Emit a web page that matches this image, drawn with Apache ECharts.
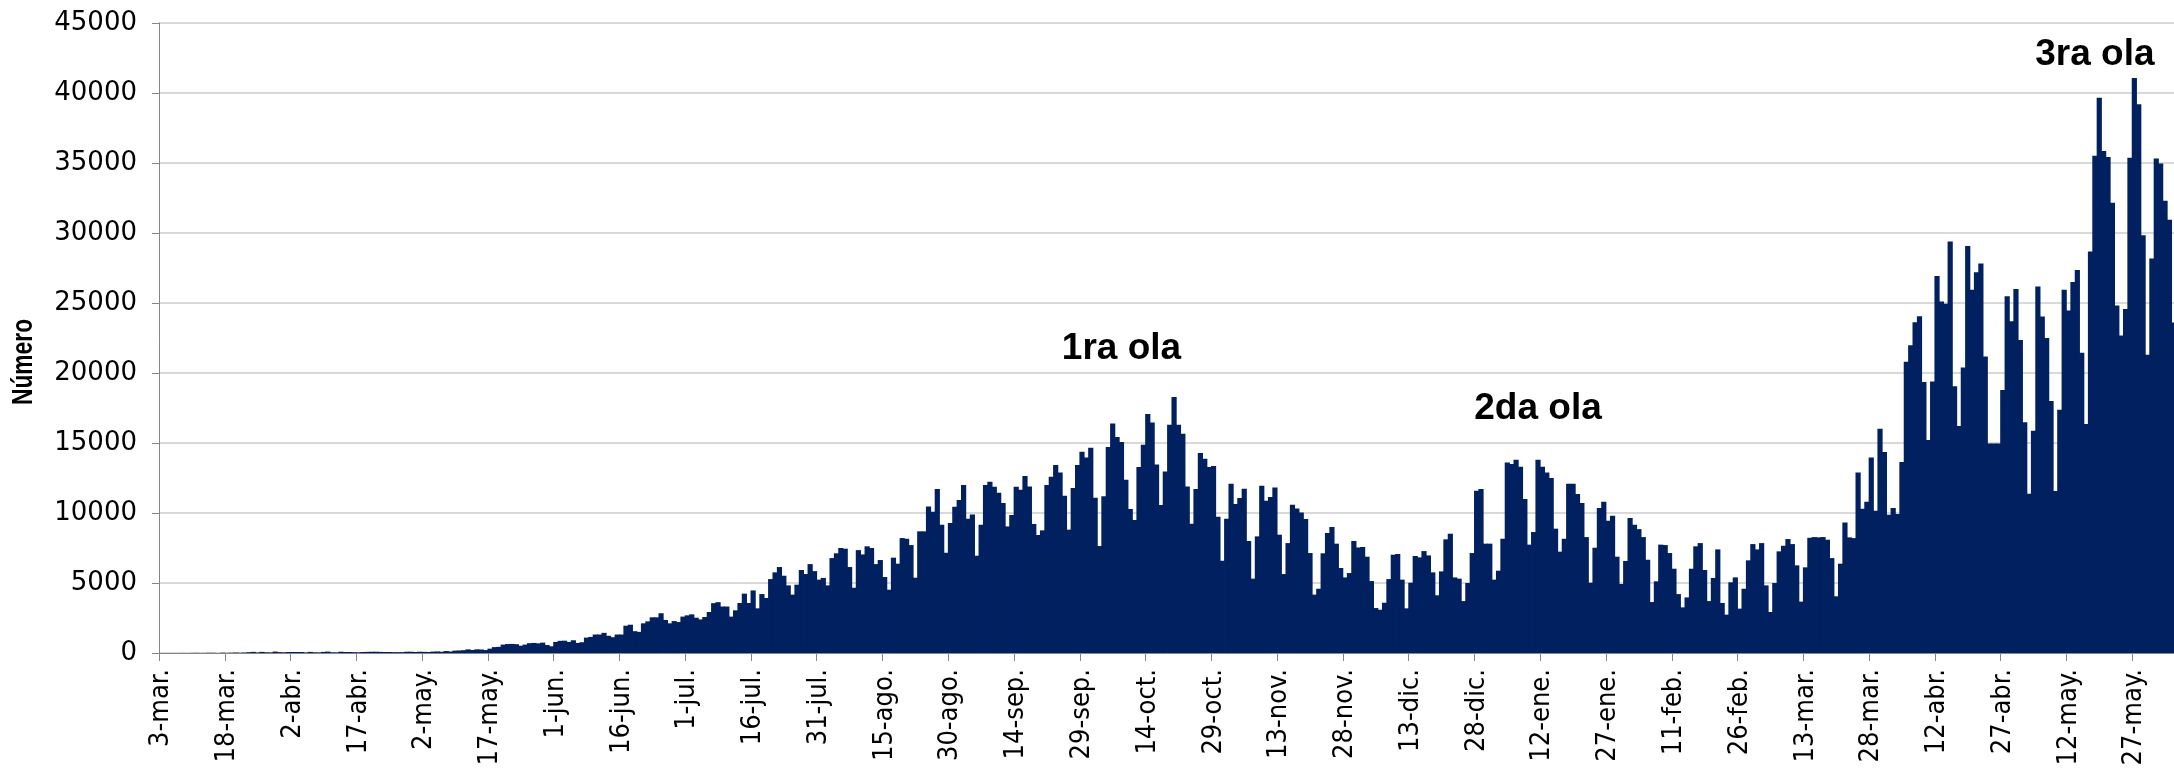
<!DOCTYPE html>
<html>
<head>
<meta charset="utf-8">
<script src="https://cdn.jsdelivr.net/npm/echarts@6/dist/echarts.min.js"></script>
<style>
  html, body { margin: 0; padding: 0; background: #fff; }
  #chart { width: 2174px; height: 769px; }
</style>
</head>
<body>
<div id="chart"></div>
<script>
// casos diarios desde el 3-mar-2020 (un valor por dia)
var casos = [
  // 3-mar .. 23-mar
  1, 0, 0, 2, 1, 3, 0, 5, 9, 3, 6, 14, 11, 0, 22, 9, 18, 31, 19, 32, 56,
  // 24-mar .. 2-may
  80, 40, 80, 50, 40, 100, 60, 50, 70, 70, 70, 70, 40, 80, 50, 40, 80, 100, 50, 40,
  90, 70, 70, 60, 50, 70, 80, 90, 90, 80, 70, 70, 60, 60, 60, 90, 90, 70, 90, 80,
  // 3-may .. 31-may
  70, 100, 110, 90, 140, 110, 170, 180, 200, 260, 215, 260, 250, 210, 310, 420, 440, 600, 640, 650,
  630, 520, 600, 700, 720, 690, 740, 570, 480,
  // 1-jun ..
  790, 870, 880, 790, 910, 720, 770, 1100, 1150, 1320,
  1320, 1440, 1230, 1130, 1320, 1320, 1950, 2020, 1560, 1510,
  2120, 2260, 2550, 2550, 2840, 2360, 2120, 2280, 2210, 2600,
  2690, 2760, 2520, 2400, 2570, 2930, 3560, 3630, 3320, 3320,
  2600, 3050, 3570, 4240, 3570, 4470, 3190, 4210, 3930, 5280,
  5760, 6140, 5520, 4830, 4170, 4880, 5930, 5640, 6350, 5850,
  5240, 5360, 4830, 6780, 7120, 7500, 7450, 6140, 4660, 7350,
  7040, 7620, 7500, 6350, 6640, 5430, 4520, 6810, 6380, 8210,
  8160, 7710, 5380, 8690, 8690, 10470, 10090, 11710, 9160, 7160,
  9280, 10450, 10920, 12000, 9590, 9900, 6950, 9160, 12000, 12230,
  11880, 11450, 10710, 9040, 9850, 11880, 11660, 12640, 11900, 9210,
  8430, 8760, 12000, 12590, 13420, 12900, 11230, 8810, 11780, 13420,
  14380, 13970, 14660, 11090, 7640, 11190, 14710, 16400, 15420, 15070,
  12380, 10280, 9500, 13280, 14880, 17070, 16470, 13470, 10570, 12970,
  16300, 18280, 16300, 15660, 11900, 9230, 11710, 14280, 13880, 13280,
  13350, 9730, 6590, 9590, 12090, 10640, 11070, 11730, 8000, 5310,
  8330, 11950, 10880, 11140, 11830, 8450, 5640, 7850, 10590, 10330,
  10040, 9570, 7140, 4170, 4590, 7120, 8570, 9000, 7810, 6070,
  5400, 5710, 8000, 7540, 7570, 6880, 5140, 3210, 3090, 3590,
  5280, 7020, 7070, 5240, 3190, 5020, 6930, 6830, 7280, 6970,
  5760, 4120, 5830, 8120, 8520, 5400, 5310, 3710, 5000, 7140,
  11590, 11710, 7810, 7810, 5240, 5880, 8160, 13600, 13500, 13800,
  13300, 11000, 7740, 8640, 13800, 13300, 12900, 12500, 8880, 7240,
  8160, 12090, 12090, 11350, 10710, 8280, 5020, 7520, 10350, 10810,
  9450, 9810, 6880, 4930, 6570, 9640, 9160, 8850, 8280, 6660,
  3640, 5120, 7740, 7710, 7140, 6020, 4210, 3260, 3970, 6020,
  7620, 7850, 5930, 3710, 5360, 7400, 3570, 2740, 5050, 5400,
  3170, 4590, 6620, 7780, 7400, 7850, 4830, 2930, 5000, 7260,
  7660, 8140, 7780, 6260, 3670, 6120, 8230, 8280, 8260, 8280,
  8090, 6780, 4050, 6380, 9330, 8260, 8210, 12900, 10310, 10810,
  13970, 10160, 16020, 14350, 9880, 10350, 9920, 13640, 20800, 21990,
  23630, 24060, 19350, 15210, 19400, 26920, 25110, 24940, 29390, 19060,
  16210, 20400, 29080, 25940, 27200, 27820, 21180, 14970, 14970, 14970,
  18780, 25480, 23690, 26000, 22360, 16490, 11380, 15880, 26170, 24040,
  22500, 18000, 11580, 17370, 25950, 24460, 26500, 27360, 21450, 16350,
  28680, 35520, 39660, 35860, 35420, 32160, 24820, 22670, 24570, 35380,
  41080, 39200, 29840, 21310, 28180, 35330, 34970, 32300, 30950, 23610
]

var monthNames = ['ene', 'feb', 'mar', 'abr', 'may', 'jun', 'jul', 'ago', 'sep', 'oct', 'nov', 'dic']

// etiquetas de las olas
var waveLabels = ['1ra ola', '2da ola', '3ra ola']
var waveDays = [219, 314, 441]
var waveLevels = [21700, 17450, 42700]

var categories = []
for (var i = 0; i < casos.length; i++) {
  var d = new Date(Date.UTC(2020, 2, 3 + i))
  categories.push(d.toISOString().slice(0, 10))
}

function shortLabel (iso) {
  var p = iso.split('-')
  return (+p[2]) + '-' + monthNames[+p[1] - 1] + '.'
}

var condensed = "'DejaVu Sans Condensed', 'DejaVu Sans', sans-serif"

var chart = echarts.init(document.getElementById('chart'))
var option = {
  animation: false,
  backgroundColor: '#fff',
  grid: {
    left: 159,
    top: 23,
    width: 2017,
    height: 630,
    containLabel: false,
    outerBoundsMode: 'none'
  },
  // titulo del eje y (comprimido a lo largo, como en el original)
  graphic: [
    {
      type: 'text',
      x: 24,
      y: 362,
      rotation: Math.PI / 2,
      scaleX: 0.76,
      style: {
        text: 'Número',
        align: 'center',
        verticalAlign: 'middle',
        font: 'bold 30px "Liberation Sans", Arial, sans-serif',
        fill: '#000'
      }
    }
  ],
  xAxis: {
    type: 'category',
    data: categories,
    boundaryGap: true,
    axisLine: { lineStyle: { color: '#868686', width: 1 } },
    axisTick: { show: true, interval: 14, length: 8, lineStyle: { color: '#868686' } },
    axisLabel: {
      interval: 14,
      rotate: 90,
      margin: 16,
      fontSize: 27,
      fontFamily: condensed,
      color: '#000',
      formatter: shortLabel
    },
    splitLine: { show: false }
  },
  yAxis: {
    type: 'value',
    min: 0,
    max: 45000,
    interval: 5000,
    axisLine: { show: true, lineStyle: { color: '#868686', width: 1 } },
    axisTick: { show: true, length: 7, lineStyle: { color: '#868686' } },
    axisLabel: {
      margin: 22,
      fontSize: 26,
      fontFamily: 'DejaVu Sans',
      color: '#000',
      formatter: function (v) { return String(v) }
    },
    splitLine: { lineStyle: { color: '#d9d9d9', width: 2 } }
  },
  series: [
    {
      name: 'casos',
      type: 'bar',
      data: casos,
      barWidth: 5.2,
      itemStyle: { color: '#002060' },
      markPoint: {
        symbol: 'circle',
        symbolSize: 0,
        label: {
          show: true,
          position: 'inside',
          formatter: '{b}',
          fontFamily: 'Liberation Sans',
          fontWeight: 'bold',
          fontSize: 37,
          color: '#000'
        },
        data: waveLabels.map(function (t, i) {
          return { name: t, coord: [waveDays[i], waveLevels[i]] }
        })
      }
    }
  ]
}
chart.setOption(option)
</script>
</body>
</html>
